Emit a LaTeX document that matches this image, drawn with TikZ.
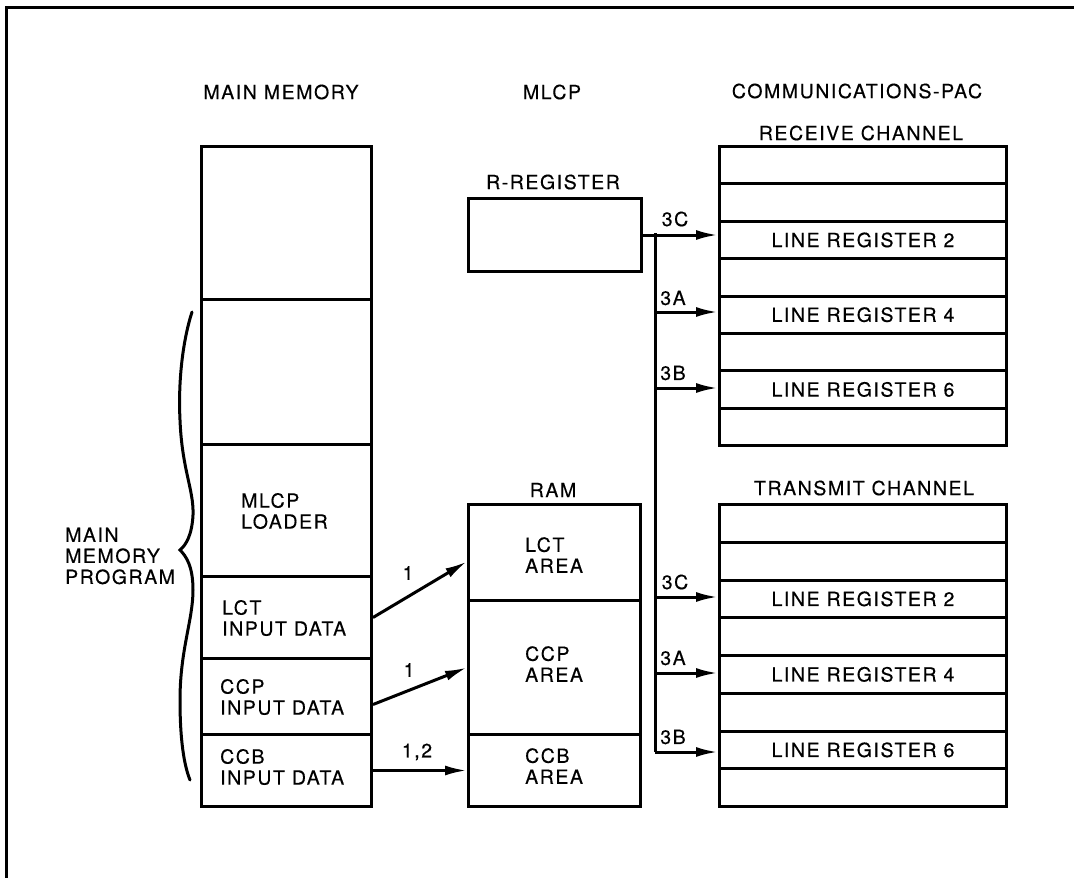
\documentclass[tikz,border=0pt]{standalone}
\usepackage{fontspec}
\setmainfont{TeX Gyre Heros}[LetterSpace=8,FakeBold=0.4]
\usetikzlibrary{arrows.meta}
\begin{document}
\begin{tikzpicture}[x=1pt,y=-1pt,
  every node/.style={font=\fontsize{19.5}{21}\selectfont},
  cell/.style={draw, line width=3pt, inner sep=0pt, anchor=north west},
  lbl/.style={inner sep=0pt, align=left, anchor=west},
  hdr/.style={inner sep=0pt},
  arr/.style={line width=3pt, -{Latex[length=22pt,width=10pt]}},
  bus/.style={line width=3pt},
  frame/.style={line width=3pt}]
\useasboundingbox (0,0) rectangle (1074,878);
% outer frame (left and top sides visible)
\coordinate (f1) at (6,878);
\coordinate (f2) at (6,7);
\coordinate (f3) at (1074,7);
\draw[frame] (f1) -- (f2) -- (f3);

% headers
\node[hdr] (hmm) at (281,92) {MAIN MEMORY};
\node[hdr] (hmlcp) at (552,92) {MLCP};
\node[hdr] (hpac) at (857,91) {COMMUNICATIONS-PAC};
\node[hdr] (hrc) at (861,133) {RECEIVE CHANNEL};
\node[hdr] (hrr) at (553,182) {R-REGISTER};
\node[hdr] (hram) at (553,490) {RAM};
\node[hdr] (htc) at (864,488) {TRANSMIT CHANNEL};

% main memory column
\node[cell, minimum width=170, minimum height=153] (mm1) at (200,145) {};
\node[cell, minimum width=170, minimum height=145] (mm2) at (200,298) {};
\node[cell, minimum width=170, minimum height=132] (mm3) at (200,443) {};
\node[cell, minimum width=170, minimum height=82] (mm4) at (200,575) {};
\node[cell, minimum width=170, minimum height=76] (mm5) at (200,657) {};
\node[cell, minimum width=170, minimum height=72] (mm6) at (200,733) {};
\node[lbl] (t3) at (241,511) {MLCP\\LOADER};
\node[lbl] (t4) at (222,618) {LCT\\INPUT DATA};
\node[lbl] (t5) at (220,697) {CCP\\INPUT DATA};
\node[lbl] (t6) at (220,767) {CCB\\INPUT DATA};

% brace
\draw[line width=3pt, line cap=round]
  (192,312) .. controls (183,340) and (178,380) .. (180,420)
  .. controls (182,470) and (194,490) .. (193,515)
  .. controls (192,535) and (186,545) .. (180,550)
  .. controls (186,556) and (193,566) .. (193,590)
  .. controls (193,620) and (180,650) .. (180,700)
  .. controls (180,740) and (184,765) .. (190,780);
\node[lbl] (tmp) at (65,556) {MAIN\\MEMORY\\PROGRAM};

% MLCP
\node[cell, minimum width=173, minimum height=73] (rreg) at (467,197) {};
\node[cell, minimum width=172, minimum height=96] (ram1) at (467,503) {};
\node[cell, minimum width=172, minimum height=134] (ram2) at (467,599) {};
\node[cell, minimum width=172, minimum height=72] (ram3) at (467,733) {};
\node[lbl] (ta1) at (525,555) {LCT\\AREA};
\node[lbl] (ta2) at (525,664) {CCP\\AREA};
\node[lbl] (ta3) at (525,766) {CCB\\AREA};

% receive channel
\foreach \i/\t in {1/,2/,3/LINE REGISTER 2,4/,5/LINE REGISTER 4,6/,7/LINE REGISTER 6,8/}{
  \node[cell, minimum width=287, minimum height=37.375] (rr\i) at (718,{145+(\i-1)*37.375}) {\t};
}
% transmit channel
\foreach \i/\t in {1/,2/,3/LINE REGISTER 2,4/,5/LINE REGISTER 4,6/,7/LINE REGISTER 6,8/}{
  \node[cell, minimum width=287, minimum height=37.75] (tr\i) at (718,{503+(\i-1)*37.75}) {\t};
}

% bus
\coordinate (b0) at (655,233);
\coordinate (b1) at (655,312);
\coordinate (b2) at (655,388);
\coordinate (b3) at (655,597);
\coordinate (b4) at (655,673);
\coordinate (b5) at (655,752);
\draw[arr] (rreg.east) -- (rreg.east -| rr3.west);
\draw[bus] (b0) -- (b5);
\draw[arr] (b1) -- (b1 -| rr5.west);
\draw[arr] (b2) -- (b2 -| rr7.west);
\draw[arr] (b3) -- (b3 -| tr3.west);
\draw[arr] (b4) -- (b4 -| tr5.west);
\draw[arr] (b5) -- (b5 -| tr7.west);
\node[hdr] (l0) at (675,219) {3C};
\node[hdr] (l1) at (673,298) {3A};
\node[hdr] (l2) at (673,373) {3B};
\node[hdr] (l3) at (675,582) {3C};
\node[hdr] (l4) at (673,658) {3A};
\node[hdr] (l5) at (673,737) {3B};

% main memory to RAM
\draw[arr] (mm4.east) -- ([yshift=-9pt]ram1.west);
\draw[arr] ([yshift=-8pt]mm5.east) -- (ram2.west);
\draw[arr] (mm6.east) -- (ram3.west);
\node[hdr] (n1) at (408,573) {1};
\node[hdr] (n2) at (409,670) {1};
\node[hdr] (n3) at (417,752) {1,2};
\end{tikzpicture}
\end{document}
